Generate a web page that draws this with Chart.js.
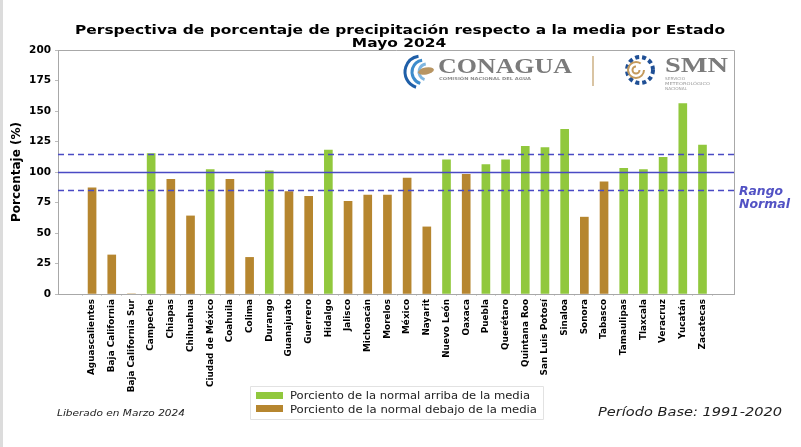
<!DOCTYPE html>
<html>
<head>
<meta charset="utf-8">
<script src="https://cdn.jsdelivr.net/npm/chart.js@4.4.1/dist/chart.umd.min.js"></script>
<style>
html, body { margin: 0; padding: 0; background: #fff; }
#contenedor { width: 801px; height: 447px; }
</style>
</head>
<body>
<div id="contenedor"><canvas id="grafica" width="801" height="447"></canvas></div>
<script>
// datos
var estados = ['Aguascalientes','Baja California','Baja California Sur','Campeche','Chiapas','Chihuahua',
  'Ciudad de México','Coahuila','Colima','Durango','Guanajuato','Guerrero','Hidalgo','Jalisco','Michoacán',
  'Morelos','México','Nayarit','Nuevo León','Oaxaca','Puebla','Querétaro','Quintana Roo','San Luis Potosí',
  'Sinaloa','Sonora','Tabasco','Tamaulipas','Tlaxcala','Veracruz','Yucatán','Zacatecas'];
var porcentaje = [87, 32, 0, 115, 94, 64, 102, 94, 30, 101, 84, 80, 118, 76, 81, 81, 95, 55, 110, 98,
  106, 110, 121, 120, 135, 63, 92, 103, 102, 112, 156, 122];
var ticksY = [0, 25, 50, 75, 100, 125, 150, 175, 200];
var rangoNormal = [85, 100, 115];
var titulo = ['Perspectiva de porcentaje de precipitación respecto a la media por Estado', 'Mayo 2024'];
var leyenda = ['Porciento de la normal arriba de la media', 'Porciento de la normal debajo de la media'];

var verde = '#91c83d';
var cafe = '#b6862f';
var azul = '#4a4ac4';

// separar en arriba / debajo de la media
var arriba = [], debajo = [];
porcentaje.forEach(function(v, i) {
  if (v > 100) arriba.push({x: i, y: v});
  else debajo.push({x: i, y: v});
});

function texto(ctx, str, x, y, font, color, ancho, align) {
  ctx.save();
  ctx.font = font;
  ctx.fillStyle = color;
  ctx.textBaseline = 'alphabetic';
  ctx.textAlign = align || 'left';
  var w = ctx.measureText(str).width;
  var sx = ancho ? ancho / w : 1;
  ctx.translate(x, y);
  ctx.scale(sx, 1);
  ctx.fillText(str, 0, 0);
  ctx.restore();
  return sx;
}

var decorado = {
  id: 'decorado',
  beforeDraw: function(chart) {
    var ctx = chart.ctx;
    ctx.save();
    ctx.fillStyle = '#fff';
    ctx.fillRect(0, 0, chart.width, chart.height);
    ctx.fillStyle = '#dcdcdc';
    ctx.fillRect(0, 0, 3, chart.height);
    ctx.restore();
  },
  afterDatasetsDraw: function(chart) {
    var ctx = chart.ctx, a = chart.chartArea, y = chart.scales.y;
    ctx.save();
    // lineas del rango normal
    rangoNormal.forEach(function(v) {
      var py = Math.round(y.getPixelForValue(v)) + 0.5;
      ctx.beginPath();
      ctx.strokeStyle = azul;
      ctx.lineWidth = 1.6;
      ctx.setLineDash(v === 100 ? [] : [6, 4]);
      ctx.moveTo(a.left, py);
      ctx.lineTo(a.right, py);
      ctx.stroke();
    });
    ctx.setLineDash([]);
    // marco
    ctx.strokeStyle = '#a8a8a8';
    ctx.lineWidth = 1;
    ctx.beginPath();
    ctx.moveTo(a.left, a.top + 0.5);
    ctx.lineTo(a.right + 0.5, a.top + 0.5);
    ctx.lineTo(a.right + 0.5, a.bottom);
    ctx.stroke();

    // logos
    ctx.fillStyle = '#fff';
    ctx.fillRect(394, 52, 338, 44);
    ctx.lineWidth = 3;
    ['#1f5fa8', '#3d8ccc', '#7fb6e0'].forEach(function(c, k) {
      ctx.strokeStyle = c;
      ctx.beginPath();
      ctx.arc(421 + k * 3, 72, 16 - k * 4, Math.PI * 0.6, Math.PI * 1.45);
      ctx.stroke();
    });
    ctx.fillStyle = '#b89563';
    ctx.beginPath();
    ctx.ellipse(426, 71, 8, 3.5, -0.2, 0, Math.PI * 2);
    ctx.fill();
    texto(ctx, 'CONAGUA', 438, 73, 'bold 21px "Liberation Serif"', '#7b7b7b', 134);
    texto(ctx, 'COMISIÓN NACIONAL DEL AGUA', 439, 80, 'bold 4px "DejaVu Sans"', '#8c8c8c', 92);
    ctx.strokeStyle = '#cdb184';
    ctx.lineWidth = 1.5;
    ctx.beginPath();
    ctx.moveTo(593, 56);
    ctx.lineTo(593, 86);
    ctx.stroke();
    ctx.strokeStyle = '#1f4f95';
    ctx.lineWidth = 4;
    ctx.setLineDash([4, 3]);
    ctx.beginPath();
    ctx.arc(640, 70, 13, 0, Math.PI * 2);
    ctx.stroke();
    ctx.setLineDash([]);
    ctx.strokeStyle = '#c49a5c';
    ctx.lineWidth = 2;
    ctx.beginPath();
    ctx.arc(636, 70, 8, 0, Math.PI * 1.7);
    ctx.stroke();
    ctx.beginPath();
    ctx.arc(636, 70, 3.5, 0, Math.PI * 1.5);
    ctx.stroke();
    texto(ctx, 'SMN', 665, 72, 'bold 22px "Liberation Serif"', '#7b7b7b', 63);
    texto(ctx, 'SERVICIO', 665, 80, '4px "DejaVu Sans"', '#999', 20);
    texto(ctx, 'METEOROLÓGICO', 665, 85, '4px "DejaVu Sans"', '#999', 45);
    texto(ctx, 'NACIONAL', 665, 90, '4px "DejaVu Sans"', '#999', 22);

    // rango normal
    texto(ctx, 'Rango', 739, 195, 'bold italic 12px "DejaVu Sans"', '#5252c4', 44);
    texto(ctx, 'Normal', 739, 208, 'bold italic 12px "DejaVu Sans"', '#5252c4', 51);
    ctx.restore();
  },
  afterDraw: function(chart) {
    var ctx = chart.ctx;
    ctx.save();
    // titulo
    var sx = texto(ctx, titulo[0], 400, 34, 'bold 12.5px "DejaVu Sans"', '#000', 650, 'center');
    ctx.save();
    ctx.font = 'bold 12.5px "DejaVu Sans"';
    var w2 = ctx.measureText(titulo[1]).width * sx;
    ctx.restore();
    texto(ctx, titulo[1], 399, 47, 'bold 12.5px "DejaVu Sans"', '#000', w2, 'center');

    // leyenda
    ctx.fillStyle = '#fff';
    ctx.strokeStyle = '#e2e2e2';
    ctx.lineWidth = 1;
    ctx.beginPath();
    ctx.rect(250.5, 386.5, 293, 33);
    ctx.fill();
    ctx.stroke();
    ctx.fillStyle = verde;
    ctx.fillRect(256, 392, 27, 7);
    ctx.fillStyle = cafe;
    ctx.fillRect(256, 405, 27, 7);
    texto(ctx, leyenda[0], 290, 399, '10px "DejaVu Sans"', '#222', 240);
    texto(ctx, leyenda[1], 290, 413, '10px "DejaVu Sans"', '#222', 247);

    // notas
    texto(ctx, 'Liberado en Marzo 2024', 57, 416, 'italic 9px "DejaVu Sans"', '#222', 128);
    texto(ctx, 'Período Base: 1991-2020', 598, 416, 'italic 12px "DejaVu Sans"', '#222', 184);
    ctx.restore();
  }
};

new Chart(document.getElementById('grafica'), {
  type: 'bar',
  data: {
    datasets: [
      { label: leyenda[0], data: arriba, backgroundColor: verde, grouped: false, barThickness: 8 },
      { label: leyenda[1], data: debajo, backgroundColor: cafe, grouped: false, barThickness: 8 }
    ]
  },
  options: {
    responsive: false,
    animation: false,
    layout: { padding: { left: 0, right: 67, top: 50, bottom: 0 } },
    plugins: {
      legend: { display: false },
      title: { display: false },
      tooltip: { enabled: false }
    },
    scales: {
      x: {
        type: 'linear',
        min: -1.73,
        max: 32.6,
        offset: false,
        afterBuildTicks: function(axis) {
          axis.ticks = estados.map(function(e, i) { return {value: i}; });
        },
        afterFit: function(scale) { scale.height = 153; },
        ticks: {
          autoSkip: false,
          maxRotation: 90,
          minRotation: 90,
          padding: 3,
          color: '#000',
          font: { family: 'DejaVu Sans', size: 8.9, weight: 'bold' },
          callback: function(v) { return estados[v]; }
        },
        grid: { display: true, drawOnChartArea: false, tickLength: 2, color: '#d0d0d0' },
        border: { display: true, color: '#a8a8a8' }
      },
      y: {
        min: 0,
        max: 200,
        afterBuildTicks: function(axis) {
          axis.ticks = ticksY.map(function(v) { return {value: v}; });
        },
        afterFit: function(scale) { scale.width = 58; },
        ticks: {
          padding: 4,
          color: '#000',
          font: { family: 'DejaVu Sans', size: 10.5, weight: 'bold' }
        },
        grid: { display: true, drawOnChartArea: false, tickLength: 3, color: '#bbb' },
        border: { display: true, color: '#a8a8a8' },
        title: {
          display: true,
          text: 'Porcentaje (%)',
          color: '#000',
          padding: { top: 10, bottom: 4 },
          font: { family: 'DejaVu Sans', size: 12, weight: 'bold' }
        }
      }
    }
  },
  plugins: [decorado]
});
</script>
</body>
</html>
